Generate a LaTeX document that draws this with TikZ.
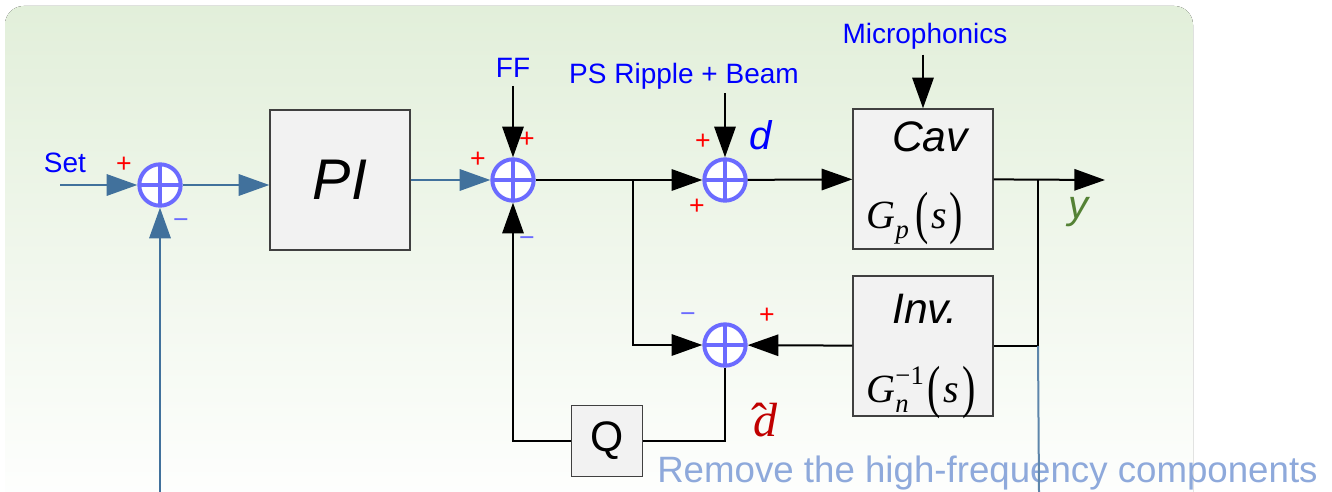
\documentclass[tikz,border=0pt]{standalone}
\usepackage{fontspec}
\setmainfont{Liberation Sans}
\newfontfamily\tms{Liberation Serif}
\usetikzlibrary{positioning,arrows.meta}
\definecolor{lcblue}{RGB}{0,0,255}
\definecolor{lcring}{RGB}{107,107,255}
\definecolor{lcsteel}{RGB}{65,113,156}
\definecolor{lcgreen}{RGB}{84,130,53}
\definecolor{lcred}{RGB}{255,0,0}
\definecolor{lcdred}{RGB}{192,0,0}
\definecolor{lcnote}{RGB}{142,169,219}
\definecolor{lcbg}{RGB}{226,239,218}
\definecolor{lcbox}{RGB}{242,242,242}
\definecolor{lcedge}{RGB}{64,64,64}
\newcommand\bigpar[1]{\raisebox{-3.5pt}{\scalebox{1}[1.45]{\upshape #1}}}
\newcommand\smallit[1]{{\fontsize{20}{20}\selectfont #1}}

\begin{document}
\begin{tikzpicture}[
  x=0.75pt, y=-0.75pt,
  node distance=4pt,
  blk/.style={draw=lcedge, line width=1pt, fill=lcbox, minimum width=105pt,
              minimum height=105pt, inner sep=0pt},
  sum/.style={circle, draw=lcring, fill=white, line width=3pt, minimum size=31pt,
              inner sep=0pt,
              path picture={\draw[lcring, line width=3pt]
                (path picture bounding box.north) -- (path picture bounding box.south)
                (path picture bounding box.west) -- (path picture bounding box.east);}},
  sig/.style={font=\fontsize{21}{21}\selectfont, text=lcblue, inner sep=1pt},
  plussign/.style={font=\fontsize{20}{20}\selectfont, text=lcred, inner sep=0pt},
  minussign/.style={font=\fontsize{20}{20}\selectfont, text=lcring, inner sep=0pt},
  title/.style={font=\fontsize{32}{32}\selectfont\itshape, inner sep=0pt},
  tf/.style={font=\tms\fontsize{30}{30}\selectfont\itshape, inner sep=0pt, anchor=base},
  line/.style={-{Triangle[length=23pt, width=16pt]}, line width=1.5pt},
  bline/.style={line, draw=lcsteel, line width=1.7pt},
]
\useasboundingbox (0,0) rectangle (1332,492);
% backdrop
\fill[top color=lcbg, bottom color=white, rounded corners=14] (5,6) rectangle (1193,520);

% blocks and junctions
\coordinate (in) at (60,185);
\node[sum] (s1) at (160,185) {};
\node[blk] (pi) at (340,180) {\fontsize{43}{43}\selectfont\itshape PI};
\node[sum] (s2) at (513,180) {};
\node[sum] (s3) at (725,180) {};
\node[blk] (cav) at (923,179) {};
\node[blk] (inv) at (923,346) {};
\node[sum] (s4) at (725,345) {};
\node[blk, minimum width=53pt, minimum height=53pt] (q) at (607,441)
  {\fontsize{32}{32}\selectfont Q};
\coordinate (tap) at (633,180);
\coordinate (tap2) at (1038,180);
\coordinate (out) at (1105,180);
\coordinate (fb) at (160,492);
\coordinate (nb) at (1039,492);

% texts inside the plant blocks
\node[title] at ([shift={(7,-42)}]cav.center) {Cav};
\node[tf] at ([shift={(-8,49)}]cav.center)
  {G\raisebox{-8pt}{\smallit{p}}\hspace{5pt}\bigpar{(}\hspace{2pt}s\hspace{2pt}\bigpar{)}};
\node[title] at ([shift={(2,-37)}]inv.center) {Inv.};
\node[tf] at ([shift={(-2,56)}]inv.center)
  {G\raisebox{-8pt}{\rlap{\smallit{n}}}\raisebox{13pt}{\smallit{\upshape −1}}\hspace{3pt}\bigpar{(}\hspace{2pt}s\hspace{2pt}\bigpar{)}};

% signals
\node[sig] (set) at (65,163) {Set};
\node[sig] (ff) at (513,68) {FF};
\node[sig] (ps) at (684,76) {PS Ripple + Beam};
\node[sig] (mic) at (925,36) {Microphonics};
\node[font=\fontsize{30}{30}\selectfont\itshape, text=lcblue] (d) at (761,135) {d};
\node[font=\fontsize{30}{30}\selectfont\itshape, text=lcgreen] (y) at (1078,212) {y};
\node[font=\tms\fontsize{36}{36}\selectfont\itshape, text=lcdred, inner sep=0pt] (dh)
  at (765,420) {d\llap{\upshape ˆ\hspace{0.2em}}};

% signs
\node[plussign] at ([shift={(-36,-20)}]s1) {+};
\node[minussign] at ([shift={(21,39)}]s1) {−};
\node[plussign] at ([shift={(-35,-20)}]s2) {+};
\node[plussign] at ([shift={(14,-40)}]s2) {+};
\node[minussign] at ([shift={(14,62)}]s2) {−};
\node[plussign] at ([shift={(-22,-38)}]s3) {+};
\node[plussign] at ([shift={(-28,27)}]s3) {+};
\node[minussign] at ([shift={(-37,-27)}]s4) {−};
\node[plussign] at ([shift={(42,-29)}]s4) {+};

% connectors
\draw[bline] (in) -- (s1);
\draw[bline] (s1) -- (s1 -| pi.west);
\draw[bline] (pi) -- (s2);
\draw[bline] (fb) -- (s1);
\draw[line, shorten <=5pt] (ff) -- (s2);
\draw[line] (s2) -- (s3);
\draw[line, shorten <=2pt] (s3 |- ps.south) -- (s3);
\draw[line] (s3) -- (cav);
\draw[line, shorten <=3pt] (cav |- mic.south) -- (cav);
\draw[line] (cav) -- (out);
\draw[line width=1.5pt] (tap2) |- (inv);
\draw[line] (inv) -- (s4);
\draw[line] (tap) |- (s4);
\draw[line width=1.5pt] (s4) |- (q);
\draw[line] (q) -| (s2);

% note
\node[font=\fontsize{27.5}{27.5}\selectfont, text=lcnote, inner sep=0pt, anchor=base west]
  (rm) at (657,482) {Remove the high-frequency components};
\draw[lcsteel!85, line width=1.5pt] (tap2 |- inv.east) -- (nb);
\end{tikzpicture}
\end{document}
